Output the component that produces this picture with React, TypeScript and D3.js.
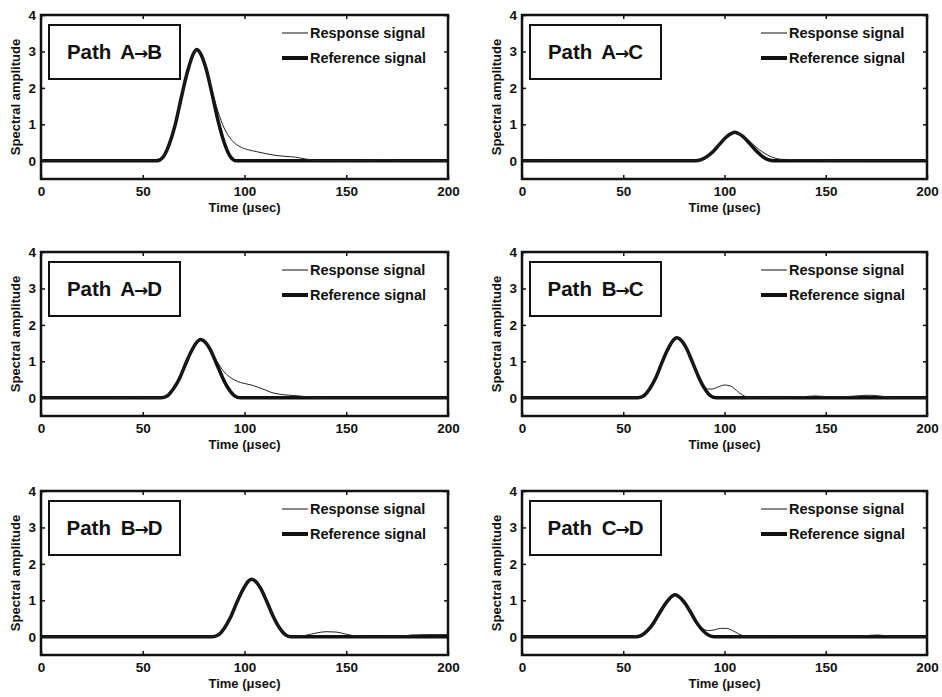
import { useEffect, useRef } from "react";
import * as d3 from "d3";

// time ticks, amplitude ticks
const timeTicks = [0, 50, 100, 150, 200];
const ampTicks = [0, 1, 2, 3, 4];
const legendLabels = ["Response signal", "Reference signal"];

// [time (usec), amplitude]
const refAB = [[0, 0], [57, 0], [60, 0.1], [63, 0.45], [66, 1.0], [69, 1.75], [72, 2.45], [75, 2.95], [76.5, 3.05], [78, 2.98], [81, 2.55], [84, 1.85], [87, 1.1], [90, 0.5], [93, 0.12], [96, 0], [200, 0]];
const respAB = [[0, 0], [57, 0], [60, 0.1], [63, 0.45], [66, 1.0], [69, 1.75], [72, 2.45], [75, 2.95], [76.5, 3.05], [78, 2.98], [81, 2.6], [84, 1.95], [87, 1.35], [90, 0.9], [94, 0.55], [98, 0.38], [102, 0.3], [106, 0.25], [110, 0.2], [115, 0.15], [120, 0.12], [125, 0.1], [130, 0.05], [135, 0.01], [150, 0], [165, 0.02], [170, 0.03], [175, 0.01], [200, 0]];

const refAC = [[0, 0], [85.5, 0], [88.5, 0.03], [91.5, 0.12], [94.5, 0.26], [97.5, 0.45], [100.5, 0.63], [103.5, 0.75], [105, 0.78], [106.5, 0.76], [109.5, 0.65], [112.5, 0.47], [115.5, 0.28], [118.5, 0.13], [121.5, 0.03], [124.5, 0], [200, 0]];
const respAC = [[0, 0], [12, 0], [15, 0.02], [18, 0], [85.5, 0], [88.5, 0.03], [91.5, 0.12], [94.5, 0.26], [97.5, 0.45], [100.5, 0.63], [103.5, 0.75], [105, 0.78], [106.5, 0.76], [109.5, 0.67], [112.5, 0.53], [115.5, 0.38], [118.5, 0.25], [121.5, 0.15], [124.5, 0.08], [128, 0.04], [135, 0.03], [145, 0.03], [150, 0.02], [160, 0], [200, 0.01]];

const refAD = [[0, 0], [59, 0], [62, 0.05], [65, 0.24], [68, 0.52], [71, 0.92], [74, 1.29], [77, 1.55], [78.5, 1.6], [80, 1.56], [83, 1.34], [86, 0.97], [89, 0.58], [92, 0.26], [95, 0.06], [98, 0], [200, 0]];
const respAD = [[0, 0], [35, 0], [45, 0.02], [52, 0.01], [59, 0], [62, 0.05], [65, 0.24], [68, 0.52], [71, 0.92], [74, 1.29], [77, 1.55], [78.5, 1.6], [80, 1.57], [83, 1.38], [86, 1.05], [89, 0.78], [92, 0.6], [95, 0.49], [98, 0.42], [101, 0.38], [104, 0.34], [107, 0.28], [110, 0.22], [113, 0.15], [117, 0.1], [122, 0.07], [127, 0.05], [132, 0.02], [140, 0], [200, 0]];

const refBC = [[0, 0], [57, 0], [60, 0.05], [63, 0.24], [66, 0.54], [69, 0.95], [72, 1.33], [75, 1.6], [76.5, 1.65], [78, 1.61], [81, 1.38], [84, 1.0], [87, 0.6], [90, 0.27], [93, 0.06], [96, 0], [200, 0]];
const respBC = [[0, 0], [57, 0], [60, 0.05], [63, 0.24], [66, 0.54], [69, 0.95], [72, 1.33], [75, 1.6], [76.5, 1.65], [78, 1.61], [81, 1.38], [84, 1.0], [87, 0.62], [90, 0.32], [92, 0.24], [94, 0.24], [97, 0.3], [100, 0.35], [103, 0.32], [106, 0.2], [109, 0.07], [112, 0.02], [120, 0.01], [135, 0.02], [145, 0.05], [155, 0.02], [165, 0.05], [172, 0.07], [178, 0.04], [185, 0], [200, 0]];

const refBD = [[0, 0], [84, 0], [87, 0.05], [90, 0.23], [93, 0.52], [96, 0.91], [99, 1.27], [102, 1.53], [103.5, 1.58], [105, 1.54], [108, 1.32], [111, 0.96], [114, 0.57], [117, 0.26], [120, 0.06], [123, 0], [200, 0]];
const respBD = [[0, 0], [84, 0], [87, 0.05], [90, 0.23], [93, 0.52], [96, 0.91], [99, 1.27], [102, 1.53], [103.5, 1.58], [105, 1.54], [108, 1.32], [111, 0.96], [114, 0.57], [117, 0.26], [120, 0.06], [123, 0], [126, 0.01], [130, 0.04], [135, 0.1], [140, 0.14], [145, 0.13], [150, 0.07], [155, 0.02], [160, 0], [170, 0], [178, 0.02], [182, 0.05], [190, 0.06], [200, 0.06]];

const refCD = [[0, 0], [56, 0], [59, 0.04], [62, 0.17], [65, 0.38], [68, 0.66], [71, 0.92], [74, 1.11], [75.5, 1.15], [77, 1.12], [80, 0.96], [83, 0.7], [86, 0.41], [89, 0.19], [92, 0.05], [95, 0], [200, 0]];
const respCD = [[0, 0], [56, 0], [59, 0.04], [62, 0.17], [65, 0.38], [68, 0.66], [71, 0.92], [74, 1.11], [75.5, 1.15], [77, 1.12], [80, 0.96], [83, 0.7], [86, 0.43], [89, 0.24], [92, 0.17], [95, 0.19], [98, 0.23], [101, 0.23], [104, 0.17], [107, 0.08], [110, 0.02], [115, 0], [125, 0.02], [130, 0.03], [138, 0.01], [150, 0], [165, 0.01], [172, 0.04], [176, 0.05], [182, 0.01], [200, 0]];

const pathFrom = ["A", "A", "A", "B", "B", "C"];
const pathTo = ["B", "C", "D", "C", "D", "D"];
const refSeries = [refAB, refAC, refAD, refBC, refBD, refCD];
const respSeries = [respAB, respAC, respAD, respBC, respBD, respCD];

const FONT = "'Liberation Sans', Arial, sans-serif";

const App = () => {
  const chartRef = useRef(null);

  useEffect(() => {
    d3.select(chartRef.current).selectAll("*").remove();

    const svg = d3.select(chartRef.current)
      .append("svg")
      .attr("width", 942)
      .attr("height", 697)
      .style("display", "block")
      .style("background", "#fff");

    // plot boxes: left column / right column, three rows
    const colX = [41, 522];
    const colW = [407, 405];
    const rowY = [15, 252, 491];
    const plotH = 164;

    pathFrom.forEach((from, i) => {
      const col = i % 2;
      const row = Math.floor(i / 2);
      const left = colX[col];
      const top = rowY[row];
      const w = colW[col];

      const x = d3.scaleLinear().domain([0, 200]).range([left, left + w]);
      const y = d3.scaleLinear().domain([-0.5, 4]).range([top + plotH, top]);

      const g = svg.append("g")
        .style("font-family", FONT)
        .style("font-weight", "bold");

      // axes with inward ticks, mirrored on top / right
      const ax = g.append("g")
        .attr("transform", `translate(0,${top + plotH})`)
        .call(d3.axisBottom(x).tickValues(timeTicks).tickSize(-4).tickPadding(7).tickFormat(d3.format("d")));
      g.append("g")
        .attr("transform", `translate(0,${top})`)
        .call(d3.axisTop(x).tickValues(timeTicks).tickSize(-4).tickFormat(() => ""));
      const ay = g.append("g")
        .attr("transform", `translate(${left},0)`)
        .call(d3.axisLeft(y).tickValues(ampTicks).tickSize(-4).tickPadding(5).tickFormat(d3.format("d")));
      g.append("g")
        .attr("transform", `translate(${left + w},0)`)
        .call(d3.axisRight(y).tickValues(ampTicks).tickSize(-4).tickFormat(() => ""));

      g.selectAll(".domain").remove();
      g.selectAll(".tick line").attr("stroke", "#111").attr("stroke-width", 1.5);
      [ax, ay].forEach(a => a.selectAll("text")
        .attr("font-size", 13.5)
        .attr("font-family", FONT)
        .attr("font-weight", "bold")
        .attr("fill", "#111"));

      // curves
      const line = d3.line()
        .x(d => x(d[0]))
        .y(d => y(d[1]))
        .curve(d3.curveMonotoneX);

      g.append("path")
        .datum(refSeries[i])
        .attr("d", line)
        .attr("fill", "none")
        .attr("stroke", "#111")
        .attr("stroke-width", 3.5)
        .attr("stroke-linejoin", "round");

      g.append("path")
        .datum(respSeries[i])
        .attr("d", line)
        .attr("fill", "none")
        .attr("stroke", "#222")
        .attr("stroke-width", 1);

      // frame
      g.append("rect")
        .attr("x", left)
        .attr("y", top)
        .attr("width", w)
        .attr("height", plotH)
        .attr("fill", "none")
        .attr("stroke", "#111")
        .attr("stroke-width", 2.5);

      // path label box
      g.append("rect")
        .attr("x", left + 8)
        .attr("y", top + 10)
        .attr("width", 131)
        .attr("height", 54)
        .attr("fill", "#fff")
        .attr("stroke", "#111")
        .attr("stroke-width", 2);
      const lbl = g.append("text")
        .attr("x", left + 8 + 65.5)
        .attr("y", top + 44)
        .attr("text-anchor", "middle")
        .attr("font-size", 20.5)
        .attr("fill", "#111");
      lbl.append("tspan").text("Path ");
      lbl.append("tspan").attr("dx", 4).text(from);
      lbl.append("tspan")
        .attr("font-family", "'DejaVu Sans', sans-serif")
        .attr("font-size", 17)
        .attr("dx", -1)
        .text("→");
      lbl.append("tspan").attr("dx", -1).text(pathTo[i]);

      // legend
      legendLabels.forEach((lab, k) => {
        const ly = top + 18 + k * 25;
        g.append("line")
          .attr("x1", left + w - 166)
          .attr("x2", left + w - 140)
          .attr("y1", ly)
          .attr("y2", ly)
          .attr("stroke", "#111")
          .attr("stroke-width", k === 0 ? 1 : 4);
        g.append("text")
          .attr("x", left + w - 138)
          .attr("y", ly)
          .attr("dominant-baseline", "central")
          .attr("font-size", 14.5)
          .attr("fill", "#111")
          .text(lab);
      });

      // axis titles
      g.append("text")
        .attr("x", left + w / 2)
        .attr("y", top + plotH + 33)
        .attr("text-anchor", "middle")
        .attr("font-size", 13)
        .attr("fill", "#111")
        .text("Time (μsec)");

      g.append("text")
        .attr("transform", `translate(${left - 26},${top + plotH / 2}) rotate(-90)`)
        .attr("text-anchor", "middle")
        .attr("dominant-baseline", "central")
        .attr("font-size", 13)
        .attr("fill", "#111")
        .text("Spectral amplitude");
    });
  }, []);

  return <div ref={chartRef} style={{ position: "absolute", left: 0, top: 0 }}></div>;
};

export default App;
